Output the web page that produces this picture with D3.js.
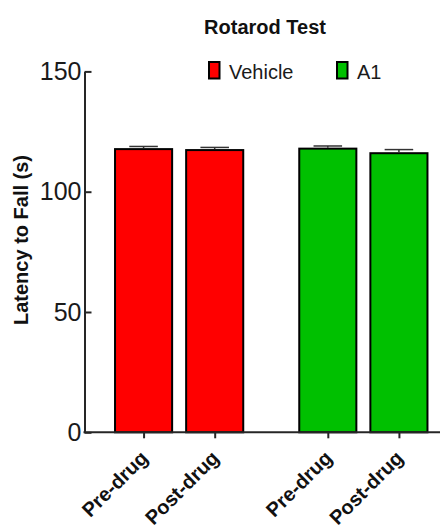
<!DOCTYPE html>
<html>
<head>
<meta charset="utf-8">
<script src="https://cdn.jsdelivr.net/npm/d3@7"></script>
<style>
  html, body { margin: 0; padding: 0; background: #fff; }
  svg { display: block; font-family: "Liberation Sans", Arial, sans-serif; }
</style>
</head>
<body>
<svg id="chart" width="440" height="525"></svg>
<script>
// Rotarod latency, mean ± SEM per treatment group and time point
const groups = ["Vehicle", "A1"];
const conditions = ["Pre-drug", "Post-drug"];
const vehicleMean = [117.7, 117.3];
const vehicleSem = [1.1, 1.1];
const a1Mean = [117.9, 116.0];
const a1Sem = [1.1, 1.5];
const groupColors = ["#ff0000", "#00c000"];
const yTicks = [0, 50, 100, 150];

const means = [vehicleMean, a1Mean];
const sems = [vehicleSem, a1Sem];
const rows = [];
groups.forEach((g, gi) => {
  conditions.forEach((c, ci) => {
    rows.push({ group: g, cond: c, key: g + "|" + c, mean: means[gi][ci], sem: sems[gi][ci], color: groupColors[gi] });
  });
});

const svg = d3.select("#chart");
const plotLeft = 84.5, plotBottom = 432.3, plotTop = 71.4, plotRight = 458;

const y = d3.scaleLinear().domain([0, 150]).range([plotBottom, plotTop]);
const xGroup = d3.scaleBand().domain(groups).range([plotLeft, plotRight]).paddingInner(0.228).paddingOuter(0.1277);
const xCond = d3.scaleBand().domain(conditions).range([0, xGroup.bandwidth()]).paddingInner(0.197).paddingOuter(0.0985);
const barX = d => xGroup(d.group) + xCond(d.cond);
const barMid = d => barX(d) + xCond.bandwidth() / 2;

// Bars
svg.append("g").selectAll("rect").data(rows).join("rect")
  .attr("x", barX)
  .attr("y", d => y(d.mean))
  .attr("width", xCond.bandwidth())
  .attr("height", d => y(0) - y(d.mean))
  .attr("fill", d => d.color)
  .attr("stroke", "#000")
  .attr("stroke-width", 2);

// Upper error bars
const err = svg.append("g").attr("stroke", "#333").attr("stroke-width", 1.5);
err.selectAll("line.v").data(rows).join("line").attr("class", "v")
  .attr("x1", barMid).attr("x2", barMid)
  .attr("y1", d => y(d.mean) - 1).attr("y2", d => y(d.mean + d.sem));
err.selectAll("line.c").data(rows).join("line").attr("class", "c")
  .attr("x1", d => barMid(d) - xCond.bandwidth() / 4)
  .attr("x2", d => barMid(d) + xCond.bandwidth() / 4)
  .attr("y1", d => y(d.mean + d.sem)).attr("y2", d => y(d.mean + d.sem));

// Y axis
const yAxis = svg.append("g").attr("transform", `translate(${plotLeft},0)`)
  .call(d3.axisLeft(y).tickValues(yTicks).tickSizeInner(-7).tickSizeOuter(0).tickPadding(3));
yAxis.select(".domain").attr("stroke", "#262626").attr("stroke-width", 2);
yAxis.selectAll(".tick line").attr("stroke", "#262626").attr("stroke-width", 2);
yAxis.selectAll(".tick text").attr("font-size", 25).attr("fill", "#1a1a1a")
  .attr("font-family", "'Liberation Sans', Arial, sans-serif");

// X axis at bar centres
const xTick = d3.scaleOrdinal().domain(rows.map(d => d.key)).range(rows.map(barMid));
const xAxis = svg.append("g").attr("transform", `translate(0,${plotBottom})`)
  .call(d3.axisBottom(xTick).tickSizeInner(6).tickSizeOuter(0).tickFormat(k => k.split("|")[1]));
xAxis.select(".domain").remove();
xAxis.selectAll(".tick line").attr("stroke", "#262626").attr("stroke-width", 2);
xAxis.selectAll(".tick text")
  .attr("font-size", 20).attr("font-weight", "bold").attr("fill", "#111")
  .attr("font-family", "'Liberation Sans', Arial, sans-serif")
  .attr("text-anchor", "end")
  .attr("dy", null).attr("y", null)
  .attr("transform", "translate(5,27) rotate(-45)");
svg.append("line")
  .attr("x1", plotLeft - 1).attr("x2", plotRight)
  .attr("y1", plotBottom).attr("y2", plotBottom)
  .attr("stroke", "#262626").attr("stroke-width", 2);

// Y axis title
svg.append("text")
  .attr("transform", `translate(28,240) rotate(-90)`)
  .attr("text-anchor", "middle")
  .attr("font-size", 20).attr("font-weight", "bold").attr("fill", "#111")
  .text("Latency to Fall (s)");

// Chart title
svg.append("text")
  .attr("x", 265).attr("y", 33.5)
  .attr("text-anchor", "middle")
  .attr("font-size", 20).attr("font-weight", "bold").attr("fill", "#111")
  .text("Rotarod Test");

// Legend
const legendX = [208, 336];
const legend = svg.append("g").selectAll("g").data(groups).join("g")
  .attr("transform", (d, i) => `translate(${legendX[i]},61)`);
legend.append("rect")
  .attr("x", 1).attr("y", 1).attr("width", 10.5).attr("height", 16.5)
  .attr("fill", (d, i) => groupColors[i])
  .attr("stroke", "#000").attr("stroke-width", 2);
legend.append("text")
  .attr("x", 21).attr("y", 17.5)
  .attr("font-size", 20).attr("fill", "#1a1a1a")
  .text(d => d);
</script>
</body>
</html>
